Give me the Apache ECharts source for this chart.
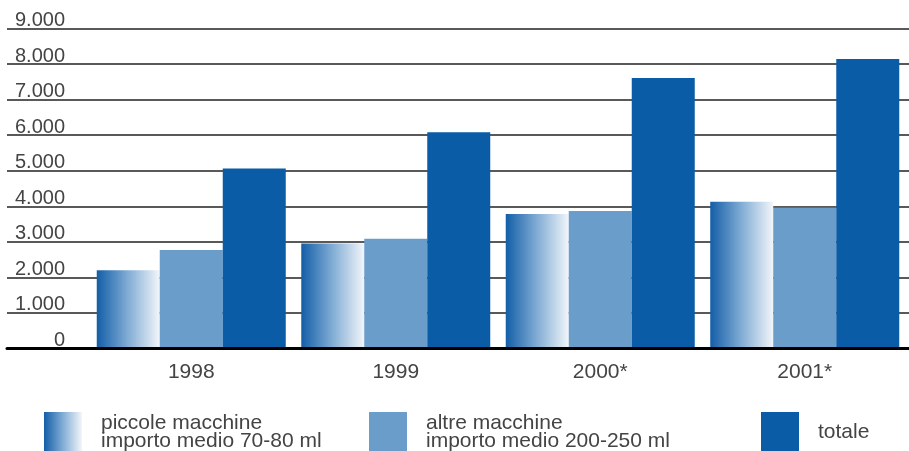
<!DOCTYPE html>
<html>
<head>
<meta charset="utf-8">
<script src="https://cdn.jsdelivr.net/npm/echarts@6/dist/echarts.min.js"></script>
<style>
  html, body { margin: 0; padding: 0; background: #fff; }
  #chart { width: 909px; height: 451px; }
</style>
</head>
<body>
<div id="chart"></div>
<script>
// Categories and values
const years = ['1998', '1999', '2000*', '2001*'];
const piccole = [2200, 2950, 3780, 4130];
const altre = [2770, 3090, 3870, 3960];
const totale = [5060, 6080, 7610, 8140];
const yLabels = ['0', '1.000', '2.000', '3.000', '4.000', '5.000', '6.000', '7.000', '8.000', '9.000'];
const seriesNames = ['piccole macchine', 'altre macchine', 'totale'];
const legendTexts = ['piccole macchine\nimporto medio 70-80 ml', 'altre macchine\nimporto medio 200-250 ml', 'totale'];

const FONT = '"Liberation Sans", Arial, sans-serif';
const TEXT = '#444';
const DARK = '#0b5ca6';
const LIGHT = '#6b9dcb';
const gradient = new echarts.graphic.LinearGradient(0, 0, 1, 0, [
  { offset: 0, color: '#135ea7' },
  { offset: 0.5, color: '#82add5' },
  { offset: 1, color: '#f2f6fa' }
]);

const chart = echarts.init(document.getElementById('chart'), null, { renderer: 'canvas' });

function legendAt(left, name) {
  return {
    left: left, top: 412, padding: 0,
    icon: 'rect', itemWidth: 38, itemHeight: 40,
    selectedMode: false,
    data: [name],
    formatter: n => legendTexts[seriesNames.indexOf(n)],
    textStyle: { fontFamily: FONT, fontSize: 21, color: TEXT, lineHeight: 17.5, padding: [0, 0, 0, 14] }
  };
}

chart.setOption({
  animation: false,
  legend: [legendAt(44, seriesNames[0]), legendAt(369, seriesNames[1]), legendAt(761, seriesNames[2])],
  grid: [
    { left: 7, right: 0, top: 28.5, bottom: 102.5 },
    { left: 89, right: 2, top: 28.5, bottom: 102.5 }
  ],
  xAxis: [
    {
      gridIndex: 0, type: 'category', data: years, z: 10,
      axisLine: { show: true, lineStyle: { color: '#000', width: 3 } },
      axisTick: { show: false }, axisLabel: { show: false }
    },
    {
      gridIndex: 1, type: 'category', data: years,
      axisLine: { show: false }, axisTick: { show: false },
      axisLabel: { fontFamily: FONT, fontSize: 21, color: TEXT, margin: 13, lineHeight: 21 }
    }
  ],
  yAxis: [
    {
      gridIndex: 0, type: 'value', min: 0, max: 9000, interval: 1000,
      axisLine: { show: false }, axisTick: { show: false }, axisLabel: { show: false },
      splitLine: { show: true, lineStyle: { color: '#222', width: 1.5 } }
    },
    {
      gridIndex: 1, type: 'value', min: 0, max: 9000, interval: 1000,
      axisLine: { show: false }, axisTick: { show: false },
      splitLine: { show: false },
      axisLabel: {
        fontFamily: FONT, fontSize: 20, color: TEXT, margin: 24,
        align: 'right', verticalAlign: 'bottom', lineHeight: 16,
        formatter: (v, i) => yLabels[i]
      }
    }
  ],
  series: [
    { name: seriesNames[0], type: 'bar', xAxisIndex: 1, yAxisIndex: 1, data: piccole,
      barWidth: 63, barGap: '0%', itemStyle: { color: gradient } },
    { name: seriesNames[1], type: 'bar', xAxisIndex: 1, yAxisIndex: 1, data: altre,
      barWidth: 63, barGap: '0%', itemStyle: { color: LIGHT } },
    { name: seriesNames[2], type: 'bar', xAxisIndex: 1, yAxisIndex: 1, data: totale,
      barWidth: 63, barGap: '0%', itemStyle: { color: DARK } }
  ]
});
</script>
</body>
</html>
